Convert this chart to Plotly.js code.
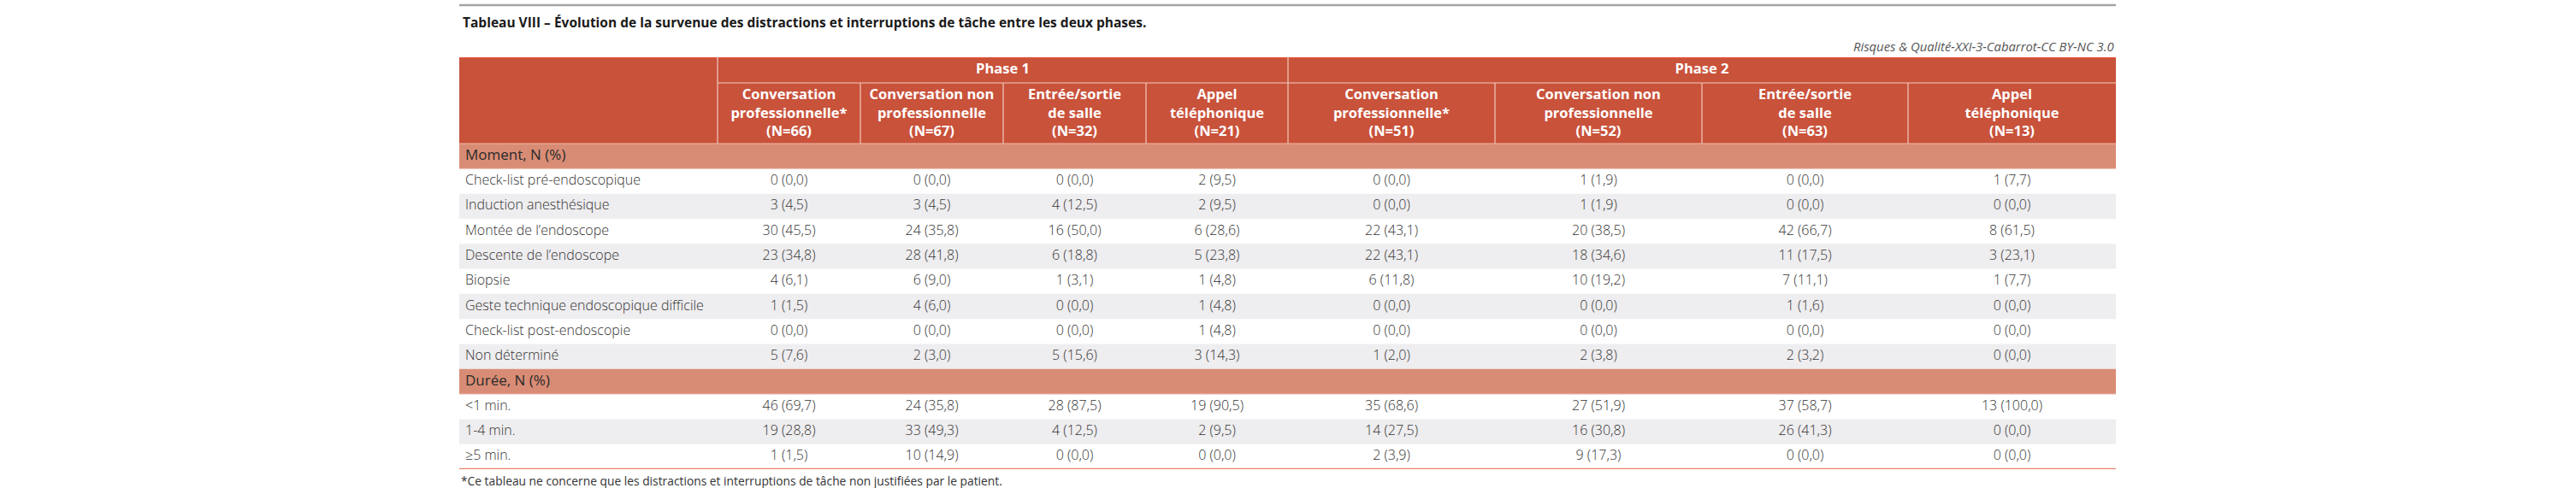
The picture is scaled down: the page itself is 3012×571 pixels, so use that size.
<!DOCTYPE html>
<html>
<head>
<meta charset="utf-8">
<script src="https://cdn.plot.ly/plotly-3.0.1.min.js"></script>
<style>html,body{margin:0;padding:0;background:#fff;}#chart{width:3012px;height:571px;}</style>
</head>
<body>
<div id="chart"></div>
<script>
// ---------------- DATA ----------------
const titleText = 'Tableau VIII – Évolution de la survenue des distractions et interruptions de tâche entre les deux phases.';
const sourceText = 'Risques & Qualité-XXI-3-Cabarrot-CC BY-NC 3.0';
const footnoteText = '*Ce tableau ne concerne que les distractions et interruptions de tâche non justifiées par le patient.';

const phases = ['Phase 1', 'Phase 2'];
const categories = ['Conversation<br>professionnelle*', 'Conversation non<br>professionnelle', 'Entrée/sortie<br>de salle', 'Appel<br>téléphonique'];
const phase1N = [66, 67, 32, 21];
const phase2N = [51, 52, 63, 13];

const sectionLabels = ['Moment, N (%)', 'Durée, N (%)'];
const momentRows = ['Check-list pré-endoscopique', 'Induction anesthésique', 'Montée de l’endoscope', 'Descente de l’endoscope', 'Biopsie', 'Geste technique endoscopique difficile', 'Check-list post-endoscopie', 'Non déterminé'];
const dureeRows = ['<1 min.', '1-4 min.', '≥5 min.'];

// one inner array per category column (Conv. pro, Conv. non pro, Entrée/sortie, Appel)
const phase1MomentN = [[0, 3, 30, 23, 4, 1, 0, 5], [0, 3, 24, 28, 6, 4, 0, 2], [0, 4, 16, 6, 1, 0, 0, 5], [2, 2, 6, 5, 1, 1, 1, 3]];
const phase1MomentPct = [[0.0, 4.5, 45.5, 34.8, 6.1, 1.5, 0.0, 7.6], [0.0, 4.5, 35.8, 41.8, 9.0, 6.0, 0.0, 3.0], [0.0, 12.5, 50.0, 18.8, 3.1, 0.0, 0.0, 15.6], [9.5, 9.5, 28.6, 23.8, 4.8, 4.8, 4.8, 14.3]];
const phase2MomentN = [[0, 0, 22, 22, 6, 0, 0, 1], [1, 1, 20, 18, 10, 0, 0, 2], [0, 0, 42, 11, 7, 1, 0, 2], [1, 0, 8, 3, 1, 0, 0, 0]];
const phase2MomentPct = [[0.0, 0.0, 43.1, 43.1, 11.8, 0.0, 0.0, 2.0], [1.9, 1.9, 38.5, 34.6, 19.2, 0.0, 0.0, 3.8], [0.0, 0.0, 66.7, 17.5, 11.1, 1.6, 0.0, 3.2], [7.7, 0.0, 61.5, 23.1, 7.7, 0.0, 0.0, 0.0]];

const phase1DureeN = [[46, 19, 1], [24, 33, 10], [28, 4, 0], [19, 2, 0]];
const phase1DureePct = [[69.7, 28.8, 1.5], [35.8, 49.3, 14.9], [87.5, 12.5, 0.0], [90.5, 9.5, 0.0]];
const phase2DureeN = [[35, 14, 2], [27, 16, 9], [37, 26, 0], [13, 0, 0]];
const phase2DureePct = [[68.6, 27.5, 3.9], [51.9, 30.8, 17.3], [58.7, 41.3, 0.0], [100.0, 0.0, 0.0]];

// ---------------- LAYOUT / STYLE ----------------
const FIG_W = 3012, FIG_H = 571;
const M_L = 537, M_R = 538, M_T = 67, M_B = 22;
const colWidths = [302, 167, 167, 167, 166, 242, 242, 241, 243];
const phaseRowH = 30, catRowH = 71, rowH = 29.3;

const C_HEAD = '#C9523B', C_SECTION = '#D98C75', C_GRAY = '#EEEDEF', C_BOTTOM = '#E8866C';
const C_TEXT = '#333333';
const FONT = '"Open Sans", "DejaVu Sans", sans-serif';

const fmt = (n, p) => n + ' (' + p.toFixed(1).replace('.', ',') + ')';

const bounds = [0];
colWidths.forEach(w => bounds.push(bounds[bounds.length - 1] + w));
const totalW = bounds[bounds.length - 1];
const colCenter = i => (bounds[i] + bounds[i + 1]) / 2;

// body rows
const bodyRows = [];
bodyRows.push({type: 'section', label: sectionLabels[0]});
momentRows.forEach((l, j) => bodyRows.push({type: 'data', label: l, sec: 0, j}));
bodyRows.push({type: 'section', label: sectionLabels[1]});
dureeRows.forEach((l, j) => bodyRows.push({type: 'data', label: l, sec: 1, j}));
const headH = phaseRowH + catRowH;
const totalH = headH + bodyRows.length * rowH;
const rowTop = i => headH + i * rowH;
const rowMid = i => headH + (i + 0.5) * rowH;

const shapes = [];
// header block
shapes.push({type: 'rect', xref: 'x', yref: 'y', x0: 0, x1: totalW, y0: 0, y1: headH, fillcolor: C_HEAD, line: {width: 0}, layer: 'below'});
shapes.push({type: 'line', xref: 'x', yref: 'y', x0: 0, x1: totalW, y0: 0.6, y1: 0.6, line: {color: '#E4553A', width: 1.5}});
// body row fills
bodyRows.forEach((r, i) => {
  let fill = null;
  if (r.type === 'section') fill = C_SECTION;
  else if (r.j % 2 === 1) fill = C_GRAY;
  if (fill) shapes.push({type: 'rect', xref: 'x', yref: 'y', x0: 0, x1: totalW, y0: rowTop(i), y1: rowTop(i) + rowH, fillcolor: fill, line: {width: 0}, layer: 'below'});
  if (r.type === 'section') shapes.push({type: 'line', xref: 'x', yref: 'y', x0: 0, x1: totalW, y0: rowTop(i) + rowH, y1: rowTop(i) + rowH, line: {color: '#EDC0B2', width: 1}});
});
// header separators
const sepColor = '#F1CBBF';
for (let b = 1; b < bounds.length - 1; b++) {
  const full = (b === 1 || b === 5);
  shapes.push({type: 'line', xref: 'x', yref: 'y', x0: bounds[b], x1: bounds[b], y0: full ? 0 : phaseRowH, y1: headH, line: {color: sepColor, width: 1.2}});
}
shapes.push({type: 'line', xref: 'x', yref: 'y', x0: bounds[1], x1: totalW, y0: phaseRowH, y1: phaseRowH, line: {color: sepColor, width: 1.2}});
shapes.push({type: 'line', xref: 'x', yref: 'y', x0: 0, x1: totalW, y0: headH, y1: headH, line: {color: '#EDB8A8', width: 1.2}});
// bottom rule
shapes.push({type: 'line', xref: 'x', yref: 'y', x0: 0, x1: totalW, y0: totalH, y1: totalH, line: {color: C_BOTTOM, width: 2.5}});
// top grey rule (above title)
const plotH = FIG_H - M_T - M_B;
const py = px => (FIG_H - M_B - px) / plotH;
shapes.push({type: 'line', xref: 'paper', yref: 'paper', x0: 0, x1: 1, y0: py(6), y1: py(6), line: {color: '#A3A3A3', width: 2.5}});

const traces = [];
// phase labels
traces.push({
  type: 'scatter', mode: 'text', hoverinfo: 'skip', cliponaxis: false, showlegend: false,
  x: [(bounds[1] + bounds[5]) / 2, (bounds[5] + bounds[9]) / 2], y: [phaseRowH / 2, phaseRowH / 2],
  text: phases, textposition: 'middle center',
  textfont: {family: FONT, size: 16.5, color: '#ffffff', weight: 700}
});
// category headers
const hdrX = [], hdrY = [], hdrT = [];
categories.forEach((c, k) => { hdrX.push(colCenter(1 + k)); hdrY.push(phaseRowH + catRowH / 2 + 1); hdrT.push(c + '<br>(N=' + phase1N[k] + ')'); });
categories.forEach((c, k) => { hdrX.push(colCenter(5 + k)); hdrY.push(phaseRowH + catRowH / 2 + 1); hdrT.push(c + '<br>(N=' + phase2N[k] + ')'); });
traces.push({
  type: 'scatter', mode: 'text', hoverinfo: 'skip', cliponaxis: false, showlegend: false,
  x: hdrX, y: hdrY, text: hdrT, textposition: 'middle center',
  textfont: {family: FONT, size: 16.5, color: '#ffffff', weight: 700}
});
// section labels
const secIdx = bodyRows.map((r, i) => r.type === 'section' ? i : -1).filter(i => i >= 0);
traces.push({
  type: 'scatter', mode: 'text', hoverinfo: 'skip', cliponaxis: false, showlegend: false,
  x: secIdx.map(() => 7), y: secIdx.map(rowMid), text: secIdx.map(i => bodyRows[i].label),
  textposition: 'middle right', textfont: {family: FONT, size: 17, color: '#2a2a2a'}
});
// row labels
const datIdx = bodyRows.map((r, i) => r.type === 'data' ? i : -1).filter(i => i >= 0);
traces.push({
  type: 'scatter', mode: 'text', hoverinfo: 'skip', cliponaxis: false, showlegend: false,
  x: datIdx.map(() => 7), y: datIdx.map(rowMid), text: datIdx.map(i => bodyRows[i].label),
  textposition: 'middle right', textfont: {family: FONT, size: 16, color: C_TEXT, weight: 300}
});
// values
function valueTrace(colIdx, mN, mP, dN, dP) {
  const ys = [], ts = [];
  datIdx.forEach(i => {
    const r = bodyRows[i];
    ys.push(rowMid(i));
    ts.push(r.sec === 0 ? fmt(mN[r.j], mP[r.j]) : fmt(dN[r.j], dP[r.j]));
  });
  return {
    type: 'scatter', mode: 'text', hoverinfo: 'skip', cliponaxis: false, showlegend: false,
    x: ys.map(() => colCenter(colIdx)), y: ys, text: ts, textposition: 'middle center',
    textfont: {family: FONT, size: 16, color: C_TEXT, weight: 300}
  };
}
for (let k = 0; k < 4; k++) traces.push(valueTrace(1 + k, phase1MomentN[k], phase1MomentPct[k], phase1DureeN[k], phase1DureePct[k]));
for (let k = 0; k < 4; k++) traces.push(valueTrace(5 + k, phase2MomentN[k], phase2MomentPct[k], phase2DureeN[k], phase2DureePct[k]));

const layout = {
  width: FIG_W, height: FIG_H,
  margin: {l: M_L, r: M_R, t: M_T, b: M_B, pad: 0},
  paper_bgcolor: '#ffffff', plot_bgcolor: 'rgba(0,0,0,0)',
  showlegend: false,
  xaxis: {range: [0, totalW], visible: false, fixedrange: true, showgrid: false, zeroline: false},
  yaxis: {range: [totalH, 0], visible: false, fixedrange: true, showgrid: false, zeroline: false},
  shapes: shapes,
  annotations: [
    {xref: 'paper', yref: 'paper', x: 0, y: py(26), xanchor: 'left', yanchor: 'middle', xshift: 2, showarrow: false,
     text: '<b>' + titleText + '</b>', font: {family: FONT, size: 15.5, color: '#1a1a1a'}},
    {xref: 'paper', yref: 'paper', x: 1, y: py(54), xanchor: 'right', yanchor: 'middle', showarrow: false,
     text: '<i>' + sourceText + '</i>', font: {family: FONT, size: 14.8, color: '#555555'}},
    {xref: 'paper', yref: 'paper', x: 0, y: py(562), xanchor: 'left', yanchor: 'middle', showarrow: false,
     text: footnoteText, font: {family: FONT, size: 13.8, color: '#333333'}}
  ]
};

Plotly.newPlot('chart', traces, layout, {staticPlot: true, displayModeBar: false});
</script>
</body>
</html>
